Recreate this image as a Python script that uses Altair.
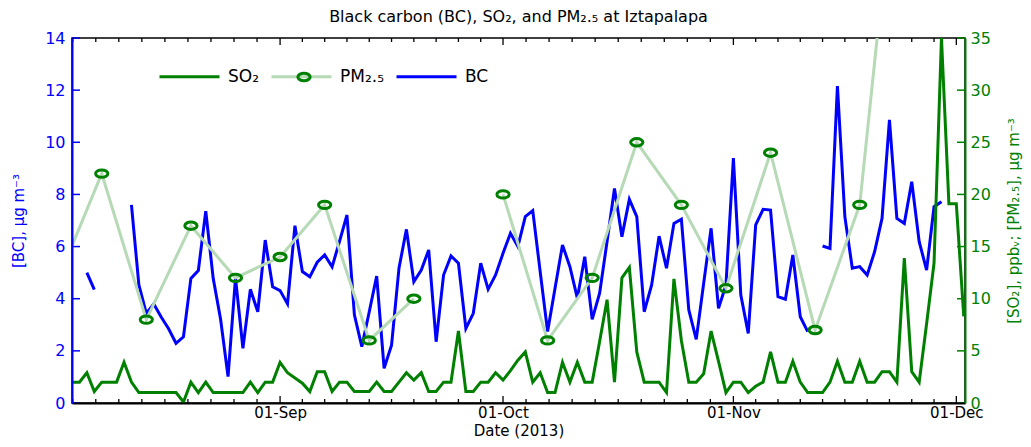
import altair as alt
import pandas as pd

FONT = "DejaVu Sans"
W, H = 893, 365

# ---------------- data ----------------
START = "2013-08-04"
# daily black carbon, ug m-3 (None = missing)
bc_values = [None, None, 5.0, 4.35, None, None, None, None,
             7.6, 4.53, 3.44, 3.8, 3.3, 2.85, 2.29, 2.54, 4.78, 5.08,
             7.36, 4.78, 3.2, 1.01, 4.8, 2.1, 4.36, 3.5, 6.25, 4.46,
             4.31, 3.8, 6.8, 5.04, 4.84, 5.4, 5.68, 5.22, 6.2, 7.21,
             3.38, 2.16, 3.5, 4.87, 1.33, 2.22, 5.17, 6.66, 4.65, 5.1,
             5.87, 2.35, 4.91, 5.64, 5.36, 2.86, 3.44, 5.36, 4.36, 4.91,
             5.74, 6.51, 6.0, 7.15, 7.38, 5.04, 2.74, 4.4, 6.06, 5.23,
             4.02, 5.61, 3.21, 4.21, 6.19, 8.23, 6.38, 7.81, 7.15, 3.5,
             4.53, 6.4, 5.17, 6.89, 7.05, 3.57, 2.44, 4.59, 6.7, 3.63,
             4.53, 9.39, 4.14, 2.67, 6.83, 7.43, 7.4, 4.08, 3.98, 5.68,
             3.31, 2.74, None, 6.02, 5.93, 12.16, 7.15, 5.17, 5.23, 4.91,
             5.8, 7.08, 10.86, 7.08, 6.89, 8.49, 6.19, 5.1, 7.53, 7.72]
# daily SO2, ppbv
so2_values = [2, 2, 2.9, 1.1, 2, 2, 2, 3.9, 2, 1, 1, 1, 1, 1, 1, 0.1,
              2, 1, 2, 1, 1, 1, 1, 1, 2, 1, 2, 2, 3.9, 2.9, 2.4, 1.9,
              1.1, 3, 3, 1.1, 2, 2, 1.1, 1.1, 1.1, 2, 1.1, 1.1, 2, 2.9,
              2.2, 2.9, 1.1, 1.1, 2, 2, 6.9, 1.1, 1.1, 2, 2, 2.9, 2.2, 3.1,
              4.1, 4.9, 2, 2.9, 1, 1, 3.9, 2, 3.9, 2, 2, 5.9, 9.9, 2,
              12, 13, 4.9, 2, 2, 2, 1, 11.9, 6, 2, 2, 2.8, 6.9, 4,
              1, 2, 2, 1, 1.6, 2, 4.9, 2, 2, 4, 2, 1, 1, 1,
              2, 4, 2, 2, 4, 2, 2, 3, 3, 2, 13.9, 3, 2, 7.6,
              13.4, 35, 19.1, 19.1, 8.3]
# PM2.5 every sixth day, ug m-3 (None = missing sample)
pm_dates = ["2013-08-02", "2013-08-08", "2013-08-14", "2013-08-20", "2013-08-26",
            "2013-09-01", "2013-09-07", "2013-09-13", "2013-09-19", "2013-09-25",
            "2013-10-01", "2013-10-07", "2013-10-13", "2013-10-19", "2013-10-25",
            "2013-10-31", "2013-11-06", "2013-11-12", "2013-11-18", "2013-11-24"]
pm_values = [11.6, 22, 8, 17, 12, 14, 19, 6, 10, None,
             20, 6, 12, 25, 19, 11, 24, 7, 19, 60]

series_names = ["SO₂", "PM₂.₅", "BC"]
series_colors = ["#008000", "#b6d9b6", "#0000ff"]
month_starts = ["2013-08-01", "2013-09-01", "2013-10-01", "2013-11-01", "2013-12-01"]
label_months = ["2013-09-01", "2013-10-01", "2013-11-01", "2013-12-01"]
left_ticks = [0, 2, 4, 6, 8, 10, 12, 14]
right_ticks = [0, 5, 10, 15, 20, 25, 30, 35]
x_domain = ["2013-08-04T00:00:00", "2013-12-02T04:00:00"]


def to_ms(s):
    return int(pd.Timestamp(s).value // 10**6)


def build(dates_ms, values, name):
    rows, seg = [], 0
    for t, v in zip(dates_ms, values):
        if v is None:
            seg += 1
            continue
        rows.append({"t": t, "v": v, "seg": seg, "series": name})
    return pd.DataFrame(rows)


n_days = max(len(bc_values), len(so2_values))
day_ms = [to_ms(d) for d in pd.date_range(START, periods=n_days, freq="D")]
bc_df = build(day_ms, bc_values, "BC")
so2_df = build(day_ms, so2_values, "SO₂")
pm_df = build([to_ms(d) for d in pm_dates], pm_values, "PM₂.₅")

dom0, dom1 = to_ms(x_domain[0]), to_ms(x_domain[1])
tick_rows = []
for ms in month_starts:
    ts = pd.Timestamp(ms)
    n = ts.days_in_month
    for k in range(10):
        t = to_ms(ts + pd.Timedelta(days=k * n / 10))
        if dom0 - 3600000 <= t <= dom1:
            tick_rows.append({"t": t, "major": k == 0})
ticks_df = pd.DataFrame(tick_rows)
major_df = ticks_df[ticks_df["major"]]
minor_df = ticks_df[~ticks_df["major"]]

# ---------------- scales / guides ----------------
x_scale = alt.Scale(type="utc", domain=[dom0, dom1])
left_scale = alt.Scale(domain=[0, 14], nice=False, zero=True)
right_scale = alt.Scale(domain=[0, 35], nice=False, zero=True)
color_scale = alt.Scale(domain=series_names, range=series_colors)
ELLIPSE = "M-1,0A1,0.6 0 1,0 1,0A1,0.6 0 1,0 -1,0Z"

legend = alt.Legend(orient="none", legendX=86, legendY=7, direction="horizontal",
                    title=None, symbolType="stroke", symbolSize=3600,
                    symbolStrokeWidth=3, labelFontSize=17, labelFont=FONT,
                    labelColor="black", labelOffset=7, columnPadding=6, padding=0)

x_axis = alt.Axis(values=[to_ms(m) for m in label_months],
                  labelExpr="utcFormat(datum.value, '%d-%b')",
                  tickSize=0, labelPadding=2, labelFontSize=15,
                  labelFont=FONT, labelColor="black", domainColor="black",
                  domainWidth=2, title="Date (2013)", titleFont=FONT,
                  titleFontSize=15, titleFontWeight="normal", titlePadding=3,
                  titleColor="black", grid=False, zindex=1)

left_axis = alt.Axis(orient="left", values=left_ticks, tickSize=0,
                     labelPadding=7, labelFontSize=16, labelFont=FONT,
                     labelColor="#0000ff", domainColor="#0000ff", domainWidth=2,
                     title="[BC], μg m⁻³", titleColor="#0000ff", titleFont=FONT,
                     titleFontSize=15, titleFontWeight="normal", titlePadding=18,
                     grid=False, zindex=1)

right_axis = alt.Axis(orient="right", values=right_ticks, tickSize=0,
                      labelPadding=5, labelFontSize=16, labelFont=FONT,
                      labelColor="#008000", domainColor="#008000", domainWidth=2,
                      title="[SO₂], ppbᵥ; [PM₂.₅], μg m⁻³", titleColor="#008000",
                      titleFont=FONT, titleFontSize=15, titleFontWeight="normal",
                      titleAngle=270, titleBaseline="top", titlePadding=16,
                      grid=False, zindex=1)

X = alt.X("t:T", scale=x_scale, axis=x_axis)

# ---------------- layers ----------------
bc_line = alt.Chart(bc_df).mark_line(strokeWidth=3, clip=True).encode(
    x=X,
    y=alt.Y("v:Q", scale=left_scale, axis=left_axis),
    color=alt.Color("series:N", scale=color_scale, legend=legend),
    detail="seg:N",
)

left_tk = alt.Chart(pd.DataFrame({"v": left_ticks})).mark_rule(
    color="#0000ff", strokeWidth=1.5).encode(
    y=alt.Y("v:Q", scale=left_scale, axis=None),
    x=alt.value(0), x2=alt.value(8))


def xrule(df, y0, y1):
    return alt.Chart(df).mark_rule(color="black", strokeWidth=1.3).encode(
        x=X, y=alt.value(y0), y2=alt.value(y1))


x_ticks = [xrule(minor_df, H, H - 4), xrule(major_df, H, H - 7),
           xrule(minor_df, 0, 4), xrule(major_df, 0, 7)]

so2_line = alt.Chart(so2_df).mark_line(strokeWidth=3, clip=True).encode(
    x=X,
    y=alt.Y("v:Q", scale=right_scale, axis=right_axis),
    color=alt.Color("series:N", scale=color_scale, legend=legend),
    detail="seg:N",
)

pm_line = alt.Chart(pm_df).mark_line(strokeWidth=3, clip=True).encode(
    x=X,
    y=alt.Y("v:Q", scale=right_scale, axis=None),
    color=alt.Color("series:N", scale=color_scale, legend=legend),
    detail="seg:N",
)

pm_pts = alt.Chart(pm_df).mark_point(filled=False, strokeWidth=3, size=150,
                                     color="#008000", opacity=1, clip=True).encode(
    x=X,
    y=alt.Y("v:Q", scale=right_scale, axis=None),
    shape=alt.Shape("series:N",
                    scale=alt.Scale(domain=["PM₂.₅"], range=[ELLIPSE]),
                    legend=alt.Legend(orient="none", legendX=224, legendY=31,
                                      title=None, labelExpr="''", symbolSize=150,
                                      symbolStrokeWidth=3,
                                      symbolStrokeColor="#008000",
                                      symbolFillColor="transparent", padding=0)),
)

right_tk = alt.Chart(pd.DataFrame({"v": right_ticks})).mark_rule(
    color="#008000", strokeWidth=1.5).encode(
    y=alt.Y("v:Q", scale=right_scale, axis=None),
    x=alt.value(W - 8), x2=alt.value(W))

chart = alt.layer(
    bc_line, left_tk, *x_ticks, so2_line, pm_line, pm_pts, right_tk
).resolve_scale(
    y="independent"
).properties(
    width=W, height=H,
    title=alt.Title("Black carbon (BC), SO₂, and PM₂.₅ at Iztapalapa",
                    font=FONT, fontSize=16, fontWeight="normal", anchor="middle",
                    color="black", offset=5),
    autosize=alt.AutoSizeParams(type="none"),
    padding={"left": 64, "top": 30, "right": 58, "bottom": 36},
).configure_view(stroke="black", strokeWidth=1.5)

chart.save("out.html", embed_options={"renderer": "svg", "actions": False})
